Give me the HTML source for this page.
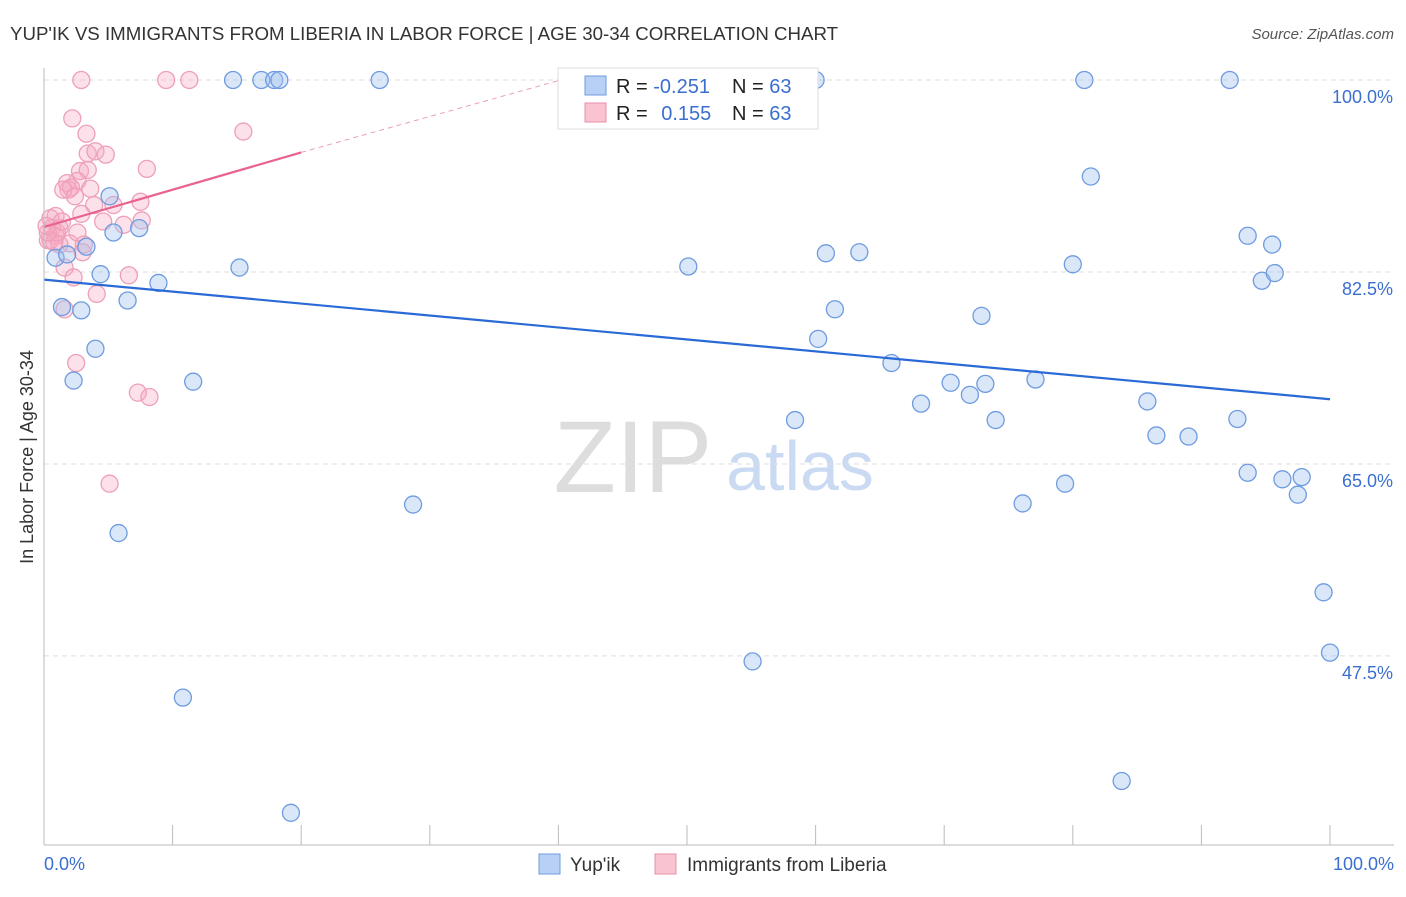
<!DOCTYPE html>
<html><head><meta charset="utf-8"><style>
body{margin:0;background:#fff;font-family:"Liberation Sans",sans-serif}
svg text{font-family:"Liberation Sans",sans-serif}
</style></head><body>
<svg id="c" width="1406" height="892" xmlns="http://www.w3.org/2000/svg">
<text x="10" y="40" font-size="18.7" fill="#333">YUP'IK VS IMMIGRANTS FROM LIBERIA IN LABOR FORCE | AGE 30-34 CORRELATION CHART</text>
<text x="1394" y="39" font-size="15" fill="#555" text-anchor="end" font-style="italic">Source: ZipAtlas.com</text>
<text x="33" y="457" font-size="18" fill="#333" text-anchor="middle" transform="rotate(-90 33 457)">In Labor Force | Age 30-34</text>
<text x="633" y="492" font-size="102" fill="#ddd" font-family="Liberation Serif" text-anchor="middle">ZIP</text>
<text x="800" y="490" font-size="70" fill="#c9daf2" text-anchor="middle">atlas</text>
<g id="grid"></g><g id="marks"></g>
<line x1="44" y1="68" x2="44" y2="845" stroke="#bbb"/>
<line x1="44" y1="845" x2="1394" y2="845" stroke="#bbb"/>
<text x="44" y="870" font-size="18" fill="#3a6fd0">0.0%</text>
<text x="1394" y="870" font-size="18" fill="#3a6fd0" text-anchor="end">100.0%</text>
<g>
<rect x="558" y="68" width="260" height="61" fill="#fff" stroke="#ddd"/>
<rect x="585" y="76" width="21" height="19" fill="#b8d0f5" stroke="#6f9be0"/>
<rect x="585" y="103" width="21" height="19" fill="#f9c3d2" stroke="#ea8fab"/>
<text x="616" y="93" font-size="20" fill="#222">R = <tspan fill="#3a6fd0">-0.251</tspan></text>
<text x="732" y="93" font-size="20" fill="#222">N = <tspan fill="#3a6fd0">63</tspan></text>
<text x="616" y="120" font-size="20" fill="#222">R = <tspan fill="#3a6fd0" dx="8">0.155</tspan></text>
<text x="732" y="120" font-size="20" fill="#222">N = <tspan fill="#3a6fd0">63</tspan></text>
</g>
<g>
<rect x="539" y="854" width="21" height="20" fill="#b8d0f5" stroke="#6f9be0"/>
<text x="570" y="871" font-size="19" fill="#333">Yup'ik</text>
<rect x="655" y="854" width="21" height="20" fill="#f9c3d2" stroke="#ea8fab"/>
<text x="687" y="871" font-size="19" fill="#333">Immigrants from Liberia</text>
</g>
</svg>
<script>
const yTicks=[100,82.5,65,47.5];
const blueX=[14.7,16.9,17.9,18.3,26.1,41.7,60,80.9,92.2,81.4,5.1,5.4,7.4,3.3,0.9,1.8,4.4,15.2,8.9,50.1,60.8,63.4,80,93.6,95.5,94.7,95.7,1.4,2.9,6.5,61.5,72.9,60.2,4,2.3,11.6,65.9,70.5,73.2,72,68.2,77.1,85.8,58.4,74,86.5,89,92.8,28.7,5.8,76.1,79.4,93.6,96.3,97.8,97.5,99.5,100,55.1,10.8,83.8,19.2];
const blueY=[100,100,100,100,100,100,100,100,100,91.2,89.4,86.1,86.5,84.8,83.8,84.1,82.3,82.9,81.5,83,84.2,84.3,83.2,85.8,85,81.7,82.4,79.3,79,79.9,79.1,78.5,76.4,75.5,72.6,72.5,74.2,72.4,72.3,71.3,70.5,72.7,70.7,69,69,67.6,67.5,69.1,61.3,58.7,61.4,63.2,64.2,63.6,63.8,62.2,53.3,47.8,47,43.7,36.1,33.2];
const pinkX=[2.9,9.5,11.3,2.2,3.3,15.5,3.4,4,4.8,8,2.8,3.4,2.6,1.8,1.9,2.1,1.5,3.6,2.4,3.9,7.5,2.9,4.6,5.4,7.6,6.2,0.9,0.5,0.6,1.2,0.9,0.3,2,1.2,0.5,3.1,3,1.6,2.3,6.6,4.1,1.6,2.5,7.3,8.2,5.1,0.8,1,0.3,1.4,2.6,0.2];
const pinkY=[100,100,100,96.5,95.1,95.3,93.3,93.5,93.2,91.9,91.7,91.8,90.8,90.6,90,90.2,90,90.1,89.4,88.6,88.9,87.8,87.1,88.6,87.2,86.8,87.6,87.4,86.5,86.5,85.8,85.4,85.1,85,85.4,85,84.3,82.9,82,82.2,80.5,79.1,74.2,71.5,71.1,63.2,85.2,86.1,86.1,87.1,86.1,86.7];
const blueTrend=[81.8,70.9], pinkTrend=[86.6,93.4,100.5];
const X=v=>44+v*12.86, Y=v=>80+(100-v)*10.97;
const NS="http://www.w3.org/2000/svg";
function mk(t,a,p){const e=document.createElementNS(NS,t);for(const k in a)e.setAttribute(k,a[k]);p.appendChild(e);return e;}
const grid=document.getElementById('grid'), marks=document.getElementById('marks');
yTicks.forEach(v=>{
 const l=mk('line',{x1:44,x2:1394,y1:Y(v),y2:Y(v),stroke:'#ddd','stroke-dasharray':'5,4'},grid);
 
 
 const t=mk('text',{x:1393,y:Y(v)+23,'font-size':18,fill:'#3a6fd0','text-anchor':'end'},grid);
 t.textContent=v.toFixed(1)+'%';
 
 
});
for(let i=0;i<=10;i++){
 const tk=mk('line',{x1:X(i*10),x2:X(i*10),y1:825,y2:845,stroke:'#bbb'},grid);
 
 
}
pinkX.forEach((x,i)=>{
 const c=mk('circle',{cx:X(x),cy:Y(pinkY[i]),r:8.5,fill:'rgba(246,170,195,0.35)',stroke:'#eea0b8','stroke-width':1.3},marks);
 
 
});
blueX.forEach((x,i)=>{
 const c=mk('circle',{cx:X(x),cy:Y(blueY[i]),r:8.5,fill:'rgba(160,195,240,0.4)',stroke:'#6f9be0','stroke-width':1.3},marks);
 
 
});
const bl=mk('line',{x1:X(0),y1:Y(blueTrend[0]),x2:X(100),y2:Y(blueTrend[1]),stroke:'#2a6ad6','stroke-width':2.2},marks);


const pl=mk('line',{x1:X(0),y1:Y(pinkTrend[0]),x2:X(20),y2:Y(pinkTrend[1]),stroke:'#e8648e','stroke-width':2.2},marks);


const pd=mk('line',{x1:X(20),y1:Y(pinkTrend[1]),x2:X(41.7),y2:Y(pinkTrend[2]),stroke:'#eaa0b8','stroke-width':1,'stroke-dasharray':'5,4'},marks);


</script>
</body></html>
